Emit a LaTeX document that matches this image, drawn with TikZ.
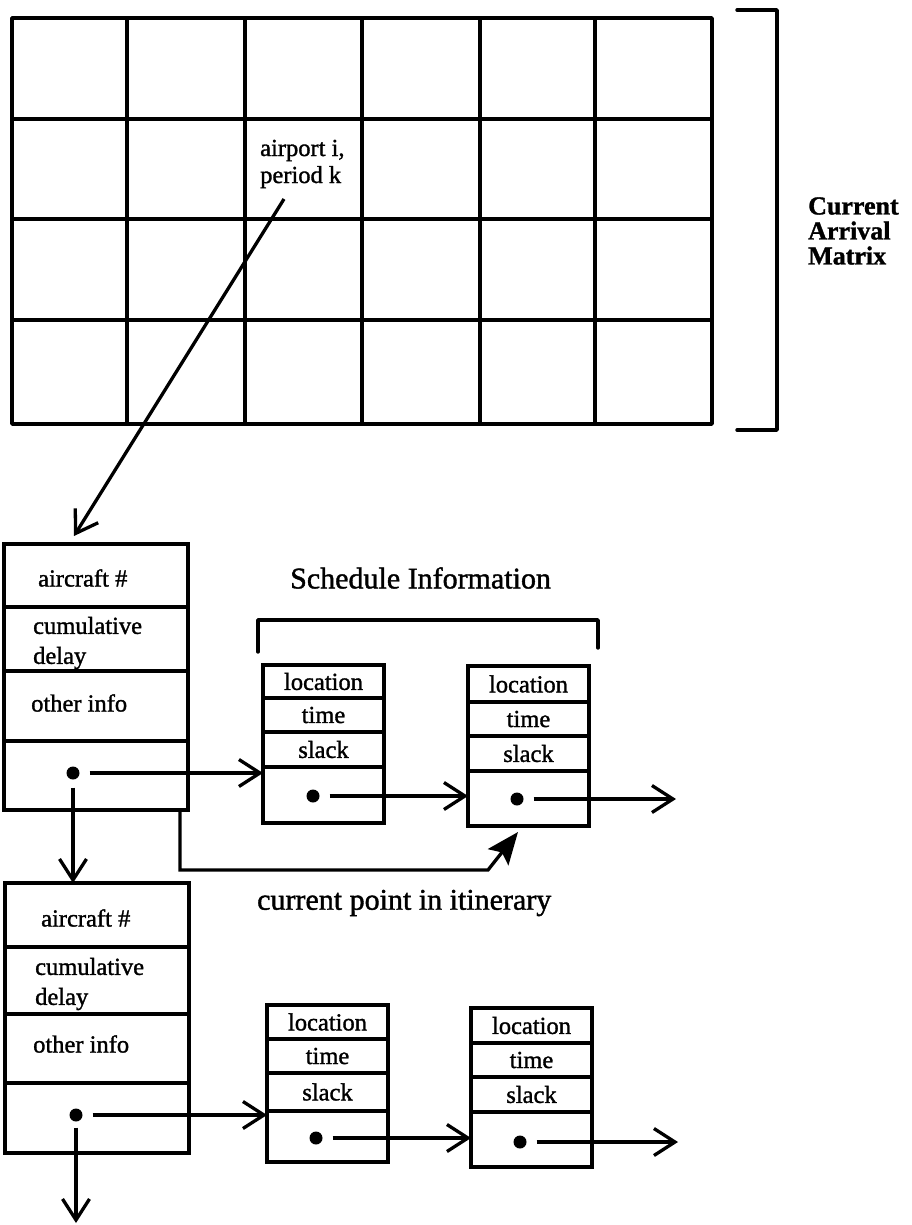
\documentclass[tikz,border=0pt]{standalone}
\usepackage{fontspec}
\setmainfont{Liberation Serif}
\newfontfamily\inkfont[FakeBold=1.3]{Liberation Serif}
\newfontfamily\inkbold[FakeBold=1.3]{Liberation Serif Bold}
\usetikzlibrary{arrows.meta,calc}

\begin{document}
\begin{tikzpicture}[x=1pt,y=-1pt,
  rule/.style={line width=3.4pt, line cap=round, line join=round},
  cell/.style={draw, line width=3.2pt, inner sep=0pt, outer sep=0pt, anchor=north west},
  arow/.style={cell, minimum width=184pt, minimum height=#1},
  srow/.style={cell, minimum width=121pt, minimum height=#1,
    font=\inkfont\fontsize{24.5}{28}\selectfont},
  lbl/.style={font=\inkfont\fontsize{24.5}{30}\selectfont, inner sep=0pt, anchor=west, align=left},
  big/.style={font=\inkfont\fontsize{30}{34}\selectfont, inner sep=0pt, anchor=west},
  dot/.style={circle, fill, inner sep=0pt, minimum size=13pt},
  ptr/.style={line width=3.3pt, -{Straight Barb[length=21pt,width=27pt]}},
  link/.style={line width=3.3pt, line join=miter, -{Stealth[length=32pt,width=26pt,inset=6pt]}}
]
\useasboundingbox (0,0) rectangle (912,1225);

% arrival matrix: 4 rows x 6 columns
\draw[rule] (12,18) rectangle (712,424);
\foreach \gx in {127,245,362,480,595} \draw[rule] (\gx,18) -- (\gx,424);
\foreach \gy in {119,219,320} \draw[rule] (12,\gy) -- (712,\gy);
\node[lbl] (cellik) at (260,164) {airport i,\\[-3pt]period k};
\coordinate (cellptr) at (284,199);

% bracket and caption of the matrix
\draw[rule] (737,10) -- (777,10) -- (777,430) -- (737,430);
\node[lbl, font=\inkbold\fontsize{26}{25}\selectfont] (cam) at (808,231)
  {Current\\Arrival\\Matrix};

% first aircraft record
\node[arow=63pt] (u1) at (4,544) {};
\node[arow=64pt] (u2) at (u1.south west) {};
\node[arow=70pt] (u3) at (u2.south west) {};
\node[arow=69pt] (u4) at (u3.south west) {};
\node[lbl] (u1t) at (38,578) {aircraft \#};
\node[lbl] (u2t) at (33,643) {cumulative\\delay};
\node[lbl] (u3t) at (31,703) {other info};
\node[dot] (du) at (73,773) {};

% second aircraft record
\node[arow=64pt] (l1) at (5,883) {};
\node[arow=67pt] (l2) at (l1.south west) {};
\node[arow=69pt] (l3) at (l2.south west) {};
\node[arow=70pt] (l4) at (l3.south west) {};
\node[lbl] (l1t) at (41,918) {aircraft \#};
\node[lbl] (l2t) at (35,984) {cumulative\\delay};
\node[lbl] (l3t) at (33,1044) {other info};
\node[dot] (dl) at (76,1115) {};

% schedule information caption and bracket
\node[big] (sched) at (290,578) {Schedule Information};
\draw[rule] (258,652) -- (258,620) -- (598,620) -- (598,648);

% schedule entries, first itinerary
\node[srow=33pt] (a1) at (263,665) {location};
\node[srow=34pt] (a2) at (a1.south west) {time};
\node[srow=35pt] (a3) at (a2.south west) {slack};
\node[srow=56pt] (a4) at (a3.south west) {};
\node[dot] (da) at (313,796) {};

\node[srow=36pt] (b1) at (468,666) {location};
\node[srow=34pt] (b2) at (b1.south west) {time};
\node[srow=35pt] (b3) at (b2.south west) {slack};
\node[srow=55pt] (b4) at (b3.south west) {};
\node[dot] (db) at (517,799) {};

% schedule entries, second itinerary
\node[srow=34pt] (c1) at (267,1005) {location};
\node[srow=34pt] (c2) at (c1.south west) {time};
\node[srow=38pt] (c3) at (c2.south west) {slack};
\node[srow=51pt] (c4) at (c3.south west) {};
\node[dot] (dc) at (316,1138) {};

\node[srow=35pt] (e1) at (471,1008) {location};
\node[srow=34pt] (e2) at (e1.south west) {time};
\node[srow=35pt] (e3) at (e2.south west) {slack};
\node[srow=55pt] (e4) at (e3.south west) {};
\node[dot] (de) at (520,1142) {};

\node[big] (cur) at (257,903) {current point in itinerary};

% pointers
\coordinate (rectop) at (74,536);
\draw[ptr] (cellptr) -- (rectop);

\draw[ptr, shorten <=10pt] (du) -- (du -| a4.west);
\draw[ptr, shorten <=8pt] (du) -- (du |- l1.north);
\draw[ptr, shorten <=10pt] (da) -- (da -| b4.west);
\coordinate (enda) at (676,799);
\draw[ptr, shorten <=10pt] (db) -- (enda);

\draw[ptr, shorten <=10pt] (dl) -- (dl -| c4.west);
\coordinate (tail) at (76,1223);
\draw[ptr, shorten <=6pt] (dl) -- (tail);
\draw[ptr, shorten <=10pt] (dc) -- (dc -| e4.west);
\coordinate (endb) at (678,1142);
\draw[ptr, shorten <=10pt] (de) -- (endb);

% current point in the itinerary
\coordinate (curtip) at ($(b4.south west)+(50,6)$);
\draw[link] ([xshift=-8pt]u4.south east) -- ++(0,60) -- (488,870) -- (curtip);
\end{tikzpicture}
\end{document}
